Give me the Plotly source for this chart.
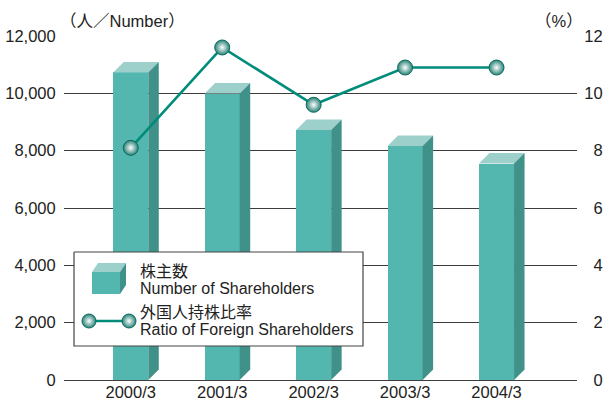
import plotly.graph_objects as go

# ---- data ----
categories = ["2000/3", "2001/3", "2002/3", "2003/3", "2004/3"]
shareholders = [10730, 9990, 8720, 8160, 7550]          # 株主数 (people)
foreign_ratio = [8.1, 11.6, 9.6, 10.9, 10.9]            # 外国人持株比率 (%)
left_ticks = [0, 2000, 4000, 6000, 8000, 10000, 12000]
left_ticktext = ["0", "2,000", "4,000", "6,000", "8,000", "10,000", "12,000"]
right_ticks = [0, 2, 4, 6, 8, 10, 12]
right_ticktext = ["\u20070", "\u20072", "\u20074", "\u20076", "\u20078", "10", "12"]

# ---- style ----
FONT = "Liberation Sans, Arial, Noto Sans CJK JP, sans-serif"
FRONT = "#53B6AF"
TOP = "#9DCFCB"
SIDE = "#3F9189"
LINE = "#008C7A"
GRID = "#3c3c3c"

W, H = 606, 401
ML, MR, MT, MB = 64, 29, 36, 21
X_RANGE = [-0.73, 4.88]
Y_MAX = 12000

plot_w = W - ML - MR
plot_h = H - MT - MB
px_per_x = plot_w / (X_RANGE[1] - X_RANGE[0])
px_per_y = plot_h / Y_MAX

bar_w = 0.383
depth_px = 10.5
dx = depth_px / px_per_x
dy = depth_px / px_per_y

xs = list(range(len(categories)))

fig = go.Figure()

# front faces of the bars
fig.add_trace(go.Bar(
    x=xs, y=shareholders, width=bar_w, marker=dict(color=FRONT, line=dict(width=0)),
    hoverinfo="skip", showlegend=False,
))

# top and side faces give the bars their depth
for x, v in zip(xs, shareholders):
    xl, xr = x - bar_w / 2, x + bar_w / 2
    fig.add_trace(go.Scatter(
        x=[xl, xr, xr + dx, xl + dx, xl], y=[v, v, v + dy, v + dy, v],
        mode="lines", fill="toself", fillcolor=TOP, line=dict(width=0),
        hoverinfo="skip", showlegend=False,
    ))
    fig.add_trace(go.Scatter(
        x=[xr, xr + dx, xr + dx, xr, xr], y=[0, dy, v + dy, v, 0],
        mode="lines", fill="toself", fillcolor=SIDE, line=dict(width=0),
        hoverinfo="skip", showlegend=False,
    ))

# shaded sphere markers: teal rim, near-white centre
sphere = dict(size=15, color="#2A8276",
              gradient=dict(type="radial", color="#FFFFFF"),
              line=dict(color="#0A6A5E", width=1))

# foreign ownership ratio line on the right axis
fig.add_trace(go.Scatter(
    x=xs, y=foreign_ratio, yaxis="y2", mode="lines+markers",
    line=dict(color=LINE, width=2.6), marker=sphere,
    hoverinfo="skip", showlegend=False,
))

# ---- key box, drawn on a pixel-scaled overlay axis ----
box_l, box_r, box_t, box_b = 74, 363, 252, 346
fig.add_trace(go.Scatter(
    x=[box_l, box_r, box_r, box_l, box_l], y=[box_t, box_t, box_b, box_b, box_t],
    xaxis="x3", yaxis="y3", mode="lines", fill="toself", fillcolor="white",
    line=dict(color="#444444", width=1.2), hoverinfo="skip", showlegend=False,
))
# cube icon
cl, cr, ct, cb, cdx, cdy = 92, 120, 272, 294, 6, 9
fig.add_trace(go.Scatter(
    x=[cl, cr, cr, cl, cl], y=[ct, ct, cb, cb, ct], xaxis="x3", yaxis="y3",
    mode="lines", fill="toself", fillcolor=FRONT, line=dict(width=0),
    hoverinfo="skip", showlegend=False,
))
fig.add_trace(go.Scatter(
    x=[cl, cr, cr + cdx, cl + cdx, cl], y=[ct, ct, ct - cdy, ct - cdy, ct],
    xaxis="x3", yaxis="y3", mode="lines", fill="toself", fillcolor=TOP,
    line=dict(width=0), hoverinfo="skip", showlegend=False,
))
fig.add_trace(go.Scatter(
    x=[cr, cr + cdx, cr + cdx, cr, cr], y=[ct, ct - cdy, cb - cdy, cb, ct],
    xaxis="x3", yaxis="y3", mode="lines", fill="toself", fillcolor=SIDE,
    line=dict(width=0), hoverinfo="skip", showlegend=False,
))
# line-with-spheres icon
fig.add_trace(go.Scatter(
    x=[89, 129], y=[321, 321], xaxis="x3", yaxis="y3", mode="lines+markers",
    line=dict(color=LINE, width=2.6), marker=dict(sphere, size=14),
    hoverinfo="skip", showlegend=False,
))

key_text = [
    ("株主数", 271),
    ("Number of Shareholders", 288),
    ("外国人持株比率", 312),
    ("Ratio of Foreign Shareholders", 329),
]
annotations = []
for txt, y in key_text:
    annotations.append(dict(
        x=138, y=y, xref="x3", yref="y3", text=txt, showarrow=False,
        xanchor="left", yanchor="middle", font=dict(size=16, color="#222222"),
    ))

# axis unit captions (paper coordinates, above the plot area)
annotations.append(dict(
    x=(58 - ML) / plot_w, y=1 + (MT - 21) / plot_h, xref="paper", yref="paper",
    text="（人／Number）", showarrow=False,
    xanchor="left", yanchor="middle", font=dict(size=16.5, color="#222222"),
))
annotations.append(dict(
    x=(585 - ML) / plot_w, y=1 + (MT - 21) / plot_h, xref="paper", yref="paper",
    text="（%）", showarrow=False,
    xanchor="right", yanchor="middle", font=dict(size=16.5, color="#222222"),
))

fig.update_layout(
    width=W, height=H,
    margin=dict(l=ML, r=MR, t=MT, b=MB, pad=0, autoexpand=False),
    paper_bgcolor="white", plot_bgcolor="white",
    font=dict(family=FONT, size=16, color="#222222"),
    bargap=0,
    xaxis=dict(
        range=X_RANGE, tickvals=xs, ticktext=categories, showgrid=False,
        zeroline=False, showline=False, ticks="", fixedrange=True,
        tickfont=dict(size=16.5), automargin=False,
    ),
    yaxis=dict(
        range=[0, Y_MAX], tickvals=left_ticks, ticktext=left_ticktext,
        showgrid=True, gridcolor=GRID, gridwidth=1,
        zeroline=True, zerolinecolor=GRID, zerolinewidth=1,
        showline=False, ticks="outside", ticklen=4, tickcolor="rgba(0,0,0,0)",
        tickfont=dict(size=16.5), automargin=False,
    ),
    yaxis2=dict(
        range=[0, 12], tickvals=right_ticks, ticktext=right_ticktext,
        overlaying="y", side="right", showgrid=False, zeroline=False,
        showline=False, ticks="outside", ticklen=3, tickcolor="rgba(0,0,0,0)",
        tickfont=dict(size=16.5), automargin=False,
    ),
    xaxis3=dict(range=[ML, W - MR], overlaying="x", visible=False,
                fixedrange=True, automargin=False),
    yaxis3=dict(range=[H - MB, MT], overlaying="y", visible=False,
                fixedrange=True, automargin=False),
    annotations=annotations,
    showlegend=False,
)

fig.write_html("out.html")
